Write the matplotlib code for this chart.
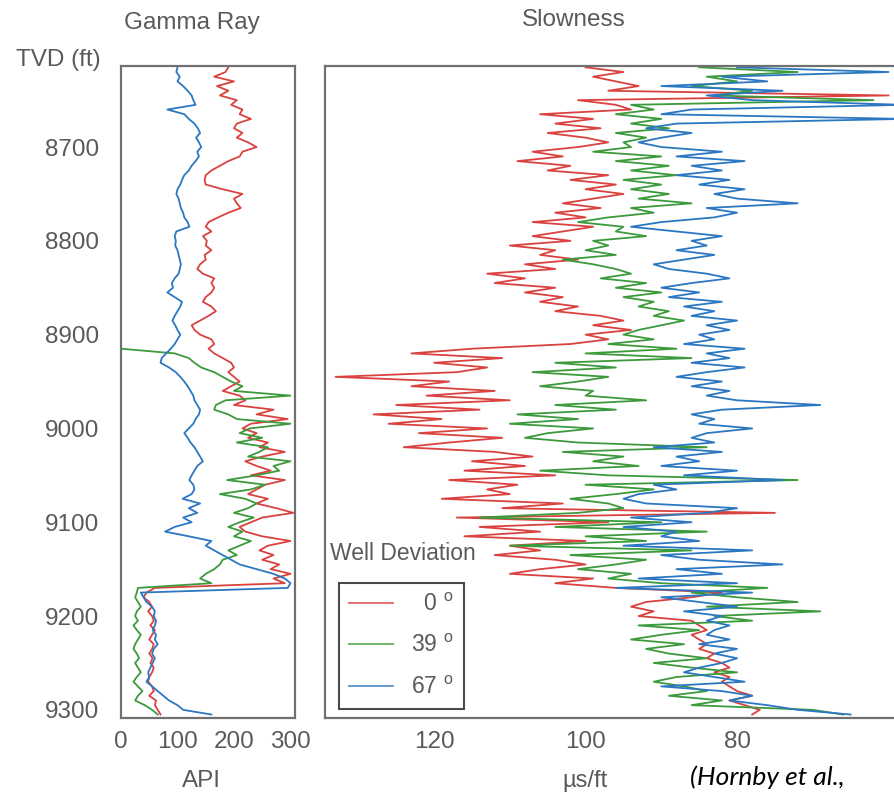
import matplotlib
matplotlib.use('Agg')
import matplotlib.pyplot as plt
from matplotlib.lines import Line2D

plt.rcParams['font.family'] = ['Liberation Sans', 'DejaVu Sans']
plt.rcParams['mathtext.fontset'] = 'custom'
plt.rcParams['mathtext.rm'] = 'Liberation Sans'
plt.rcParams['mathtext.it'] = 'Liberation Sans:italic'

# ---------------- data ----------------
DEPTH = [8615, 8620, 8625, 8630, 8635, 8640, 8645, 8650, 8655, 8660,
         8665, 8670, 8675, 8680, 8685, 8690, 8695, 8700, 8705, 8710,
         8715, 8720, 8725, 8730, 8735, 8740, 8745, 8750, 8755, 8760,
         8765, 8770, 8775, 8780, 8785, 8790, 8795, 8800, 8805, 8810,
         8815, 8820, 8825, 8830, 8835, 8840, 8845, 8850, 8855, 8860,
         8865, 8870, 8875, 8880, 8885, 8890, 8895, 8900, 8905, 8910,
         8915, 8920, 8925, 8930, 8935, 8940, 8945, 8950, 8955, 8960,
         8965, 8970, 8975, 8980, 8985, 8990, 8995, 9000, 9005, 9010,
         9015, 9020, 9025, 9030, 9035, 9040, 9045, 9050, 9055, 9060,
         9065, 9070, 9075, 9080, 9085, 9090, 9095, 9100, 9105, 9110,
         9115, 9120, 9125, 9130, 9135, 9140, 9145, 9150, 9155, 9160,
         9165, 9170, 9175, 9180, 9185, 9190, 9195, 9200, 9205, 9210,
         9215, 9220, 9225, 9230, 9235, 9240, 9245, 9250, 9255, 9260,
         9265, 9270, 9275, 9280, 9285, 9290, 9295, 9300, 9305]

# Gamma ray (API)
GR_0 = [190, 185, 165, 200, 170, 190, 175, 205, 195, 215,
        210, 230, 205, 200, 215, 205, 225, 240, 215, 210,
        190, 175, 160, 150, 148, 150, 180, 215, 200, 205,
        212, 190, 172, 155, 150, 160, 145, 152, 150, 160,
        148, 150, 140, 135, 145, 165, 160, 165, 160, 150,
        145, 160, 168, 155, 140, 125, 130, 140, 160, 165,
        155, 165, 180, 195, 200, 190, 200, 210, 195, 180,
        210, 220, 200, 270, 240, 295, 230, 215, 240, 225,
        260, 245, 290, 250, 220, 240, 265, 230, 290, 255,
        240, 225, 260, 240, 275, 305, 250, 230, 210, 220,
        250, 300, 260, 245, 270, 250, 280, 265, 300, 270,
        290, 60, 45, 40, 50, 55, 48, 55, 58, 52,
        60, 55, 50, 58, 55, 50, 56, 52, 58, 55,
        50, 48, 55, 58, 50, 62, 60, 65, 70]

GR_39 = [0, 95, 120, 130, 142, 165, 180, 195, 215, 200,          # starts at 8915 ft
         300, 185, 168, 165, 190, 205, 300, 228, 210, 250,
         205, 260, 245, 225, 300, 270, 280, 240, 188, 255,
         230, 175, 220, 240, 225, 200, 235, 210, 190, 215,
         200, 230, 210, 190, 205, 180, 175, 165, 150, 140,
         160, 30, 28, 25, 30, 35, 28, 25, 30, 22,
         28, 35, 30, 25, 22, 28, 32, 25, 30, 35,
         28, 22, 30, 38, 30, 25, 42, 55, 65]

GR_67 = [100, 98, 104, 100, 110, 118, 125, 128, 132, 82,
         112, 120, 130, 136, 140, 133, 138, 142, 135, 138,
         132, 125, 120, 112, 108, 105, 100, 98, 102, 104,
         106, 110, 112, 118, 121, 98, 95, 97, 96, 100,
         102, 104, 106, 104, 102, 95, 90, 92, 82, 95,
         108, 105, 100, 95, 91, 96, 100, 105, 100, 95,
         88, 80, 72, 70, 85, 97, 105, 112, 118, 123,
         128, 130, 135, 140, 138, 132, 128, 120, 112, 118,
         123, 130, 135, 140, 145, 135, 130, 125, 121, 128,
         130, 125, 109, 140, 120, 135, 110, 125, 95, 78,
         120, 160, 150, 165, 180, 195, 210, 240, 270, 290,
         300, 295, 35, 40, 45, 55, 60, 58, 62, 60,
         56, 62, 60, 65, 58, 55, 60, 56, 52, 48,
         50, 45, 55, 65, 75, 85, 100, 110, 160]

# Slowness (us/ft)
SL_0 = [100, 95, 99, 96, 93, 97, 60, 101, 96, 94,
        106, 99, 104, 98, 105, 100, 97, 101, 107, 103,
        109, 102, 105, 97, 102, 96, 100, 95, 99, 103,
        98, 104, 100, 107, 99, 103, 107, 102, 110, 104,
        106, 101, 108, 104, 113, 108, 112, 104, 108, 103,
        106, 101, 104, 98, 95, 99, 94, 100, 97, 102,
        115, 123, 111, 120, 113, 117, 133, 118, 123, 112,
        121, 110, 125, 114, 128, 119, 126, 113, 122, 111,
        118, 124, 112, 107, 115, 108, 116, 104, 118, 109,
        113, 110, 119, 103, 111, 75, 117, 97, 114, 106,
        116, 100, 110, 106, 112, 104, 100, 106, 110, 99,
        104, 96, 82, 86, 92, 94, 91, 93, 86, 85,
        84, 86, 85, 84, 85, 83, 84, 82, 81, 83,
        81, 82, 81, 80, 78, 81, 79, 77, 78]

SL_39 = [85, 72, 84, 80, 86, 78, 83, 62, 94, 91,
         96, 90, 94, 89, 96, 92, 95, 94, 99, 90,
         96, 89, 94, 88, 95, 90, 94, 89, 93, 86,
         94, 91, 97, 101, 95, 96, 92, 99, 97, 100,
         96, 103, 99, 96, 94, 98, 92, 96, 90, 95,
         91, 93, 89, 91, 87, 90, 93, 95, 91, 97,
         88, 100, 86, 104, 96, 107, 97, 101, 106, 99,
         100, 92, 104, 96, 109, 101, 110, 99, 105, 108,
         101, 84, 103, 95, 99, 93, 106, 97, 72, 100,
         91, 96, 102, 97, 95, 101, 114, 90, 104, 84,
         100, 92, 110, 86, 102, 92, 96, 101, 94, 97,
         90, 76, 86, 80, 72, 84, 69, 83, 78, 93,
         85, 90, 94, 87, 92, 89, 84, 91, 86, 80,
         88, 91, 87, 84, 89, 82, 86, 70, 66]

SL_67 = [80, 60, 82, 76, 90, 74, 84, 78, 58, 86,
         90, 58, 88, 92, 86, 90, 93, 90, 82, 88,
         79, 86, 82, 88, 81, 85, 79, 83, 80, 72,
         84, 80, 83, 90, 94, 88, 82, 86, 84, 88,
         83, 87, 91, 89, 84, 81, 86, 90, 85, 89,
         82, 87, 83, 86, 80, 84, 81, 85, 83, 87,
         79, 84, 81, 86, 79, 84, 88, 82, 86, 81,
         84, 80, 69, 82, 86, 83, 85, 78, 84, 86,
         83, 91, 82, 88, 85, 90, 80, 87, 74, 91,
         88, 93, 95, 92, 80, 84, 94, 86, 95, 88,
         90, 85, 95, 78, 90, 85, 74, 88, 82, 93,
         80, 96, 78, 90, 85, 80, 87, 82, 84, 81,
         83, 84, 81, 85, 80, 83, 80, 82, 85, 87,
         83, 79, 90, 82, 78, 81, 76, 72, 65]

DEPTH_TICKS = [8700, 8800, 8900, 9000, 9100, 9200, 9300]
GR_TICKS = [0, 100, 200, 300]
SL_TICKS = [120, 100, 80]
LEGEND_LABELS = [r'  0 $^{\mathrm{o}}$', r'39 $^{\mathrm{o}}$', r'67 $^{\mathrm{o}}$']

# ---------------- styling ----------------
RED, GREEN, BLUE = '#d9423f', '#3c9a3c', '#2b77c2'
GREY = '#5a5a5a'
LW = 1.3

W, H = 894, 794
fig = plt.figure(figsize=(W / 100, H / 100), dpi=100)


def box(l, t, r, b):
    return [l / W, 1 - b / H, (r - l) / W, (b - t) / H]


def fp(x, y):
    return (x / W, 1 - y / H)


ax1 = fig.add_axes(box(121, 66, 295, 718))
ax2 = fig.add_axes(box(325, 66, 926.4, 718))

for ax in (ax1, ax2):
    for s in ax.spines.values():
        s.set_color('#707070')
        s.set_linewidth(1.6)
    ax.tick_params(length=0, labelsize=17.5, labelcolor=GREY)
    ax.set_ylim(9308.7, 8613.6)

# Gamma ray panel
ax1.plot(GR_0, DEPTH, color=RED, lw=LW)
ax1.plot(GR_39, DEPTH[-len(GR_39):], color=GREEN, lw=LW)
ax1.plot(GR_67, DEPTH, color=BLUE, lw=LW)
ax1.set_xlim(3, 308)
ax1.set_xticks(GR_TICKS)
ax1.set_yticks(DEPTH_TICKS)
ax1.tick_params(axis='y', pad=16)
ax1.tick_params(axis='x', pad=9)

# Slowness panel
ax2.plot(SL_0, DEPTH, color=RED, lw=LW)
ax2.plot(SL_39, DEPTH, color=GREEN, lw=LW)
ax2.plot(SL_67, DEPTH, color=BLUE, lw=LW)
ax2.set_xlim(134.4, 55)
ax2.set_xticks(SL_TICKS)
ax2.set_yticks([])
ax2.tick_params(axis='x', pad=9)

handles = [Line2D([], [], color=c, lw=LW, alpha=0.8) for c in (RED, GREEN, BLUE)]
leg = ax2.legend(handles, LEGEND_LABELS, loc='lower left',
                 bbox_to_anchor=(0.0233, 0.0138), borderaxespad=0,
                 fancybox=False, edgecolor='#4a4a4a', framealpha=1,
                 fontsize=16.5, handlelength=1.9, handletextpad=0.8,
                 labelspacing=0.8, borderpad=0.45)
for t in leg.get_texts():
    t.set_color(GREY)
leg.get_frame().set_linewidth(1.5)
leg.set_zorder(10)

# Texts
fig.text(*fp(192, 23), 'Gamma Ray', ha='center', va='center', fontsize=17.5, color=GREY)
fig.text(*fp(574, 20), 'Slowness', ha='center', va='center', fontsize=17.5, color=GREY)
fig.text(*fp(101, 60), 'TVD (ft)', ha='right', va='center', fontsize=17.5, color=GREY)
fig.text(*fp(201, 781), 'API', ha='center', va='center', fontsize=17.5, color=GREY)
fig.text(*fp(585, 781), 'µs/ft', ha='center', va='center', fontsize=17, color=GREY)
fig.text(*fp(690, 777), '(Hornby et al.,', ha='left', va='center', fontsize=19,
         color='black', style='italic', family=['Lato', 'DejaVu Sans'])
fig.text(*fp(330, 553), 'Well Deviation', ha='left', va='center', fontsize=16.5,
         color=GREY, zorder=11,
         bbox=dict(facecolor='white', edgecolor='none', pad=0.5))

fig.savefig('out.png', dpi=100)
